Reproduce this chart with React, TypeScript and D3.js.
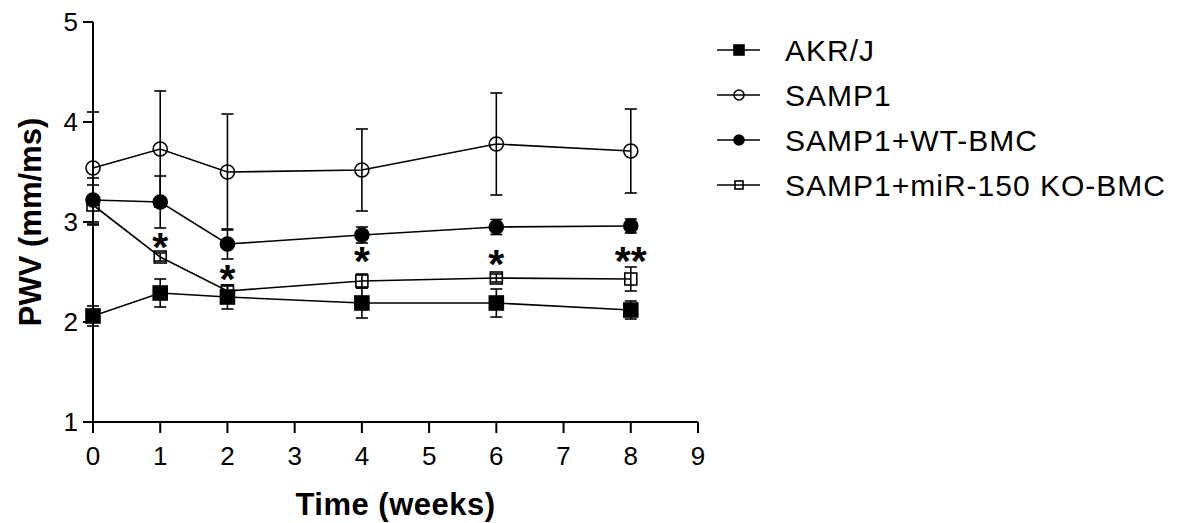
import React from 'react';
import * as d3 from 'd3';

const weeks = [0, 1, 2, 4, 6, 8];

const akrMean = [2.06, 2.29, 2.25, 2.19, 2.19, 2.12];
const akrErr = [0.1, 0.14, 0.12, 0.15, 0.14, 0.09];
const sampMean = [3.54, 3.73, 3.5, 3.52, 3.78, 3.71];
const sampErr = [0.56, 0.58, 0.58, 0.41, 0.51, 0.42];
const wtMean = [3.22, 3.2, 2.78, 2.87, 2.95, 2.96];
const wtErr = [0.22, 0.26, 0.15, 0.08, 0.075, 0.07];
const koMean = [3.17, 2.65, 2.31, 2.41, 2.44, 2.43];
const koErr = [0.2, 0.04, 0.05, 0.07, 0.04, 0.12];

const xTicks = [0, 1, 2, 3, 4, 5, 6, 7, 8, 9];
const yTicks = [1, 2, 3, 4, 5];

// significance marks (week, label, level on the y scale)
const starWeeks = [1, 2, 4, 6, 8];
const starLabels = ['*', '*', '*', '*', '**'];
const starLevels = [2.84, 2.52, 2.7, 2.67, 2.7];

type Series = { name: string; mean: number[]; err: number[]; shape: 'square' | 'circle'; filled: boolean };

const series: Series[] = [
  { name: 'AKR/J', mean: akrMean, err: akrErr, shape: 'square', filled: true },
  { name: 'SAMP1', mean: sampMean, err: sampErr, shape: 'circle', filled: false },
  { name: 'SAMP1+WT-BMC', mean: wtMean, err: wtErr, shape: 'circle', filled: true },
  { name: 'SAMP1+miR-150 KO-BMC', mean: koMean, err: koErr, shape: 'square', filled: false },
];

const W = 1194;
const H = 523;
const font = 'Liberation Sans, Arial, Helvetica, sans-serif';

const x = d3.scaleLinear().domain([0, 9]).range([93, 698]);
const y = d3.scaleLinear().domain([1, 5]).range([422, 22]);

function Marker({ s, cx, cy, size }: { s: Series; cx: number; cy: number; size: number }) {
  const fill = s.filled ? '#000' : 'none';
  if (s.shape === 'square') {
    const a = s.filled ? size : size - 2;
    return <rect x={cx - a / 2} y={cy - a / 2} width={a} height={a} fill={fill} stroke="#000" strokeWidth={1.6} />;
  }
  return <circle cx={cx} cy={cy} r={size / 2} fill={fill} stroke="#000" strokeWidth={1.6} />;
}

export default function App() {
  const line = d3.line<number>().x((_, i) => x(weeks[i])).y((d) => y(d));

  return (
    <svg width={W} height={H} style={{ position: 'absolute', left: 0, top: 0, background: '#fff' }} fontFamily={font}>
      {/* axes */}
      <line x1={x(0)} x2={x(0)} y1={y(1)} y2={y(5)} stroke="#000" strokeWidth={2} />
      <line x1={x(0) - 10} x2={x(9)} y1={y(1)} y2={y(1)} stroke="#000" strokeWidth={2} />
      {yTicks.map((t) => (
        <g key={'y' + t}>
          <line x1={x(0) - 10} x2={x(0)} y1={y(t)} y2={y(t)} stroke="#000" strokeWidth={2} />
          <text x={78} y={y(t) + 9} textAnchor="end" fontSize={26}>{t}</text>
        </g>
      ))}
      {xTicks.map((t) => (
        <g key={'x' + t}>
          <line x1={x(t)} x2={x(t)} y1={y(1)} y2={y(1) + 11} stroke="#000" strokeWidth={2} />
          <text x={x(t)} y={465} textAnchor="middle" fontSize={26}>{t}</text>
        </g>
      ))}
      <text x={(x(0) + x(9)) / 2} y={515} textAnchor="middle" fontSize={31} fontWeight="bold" letterSpacing={0.5}>Time (weeks)</text>
      <text transform={`translate(41,${y(3)}) rotate(-90)`} textAnchor="middle" fontSize={31} fontWeight="bold">PWV (mm/ms)</text>

      {/* lines */}
      {series.map((s) => (
        <path key={'l' + s.name} d={line(s.mean) || ''} fill="none" stroke="#000" strokeWidth={1.6} />
      ))}
      {/* error bars */}
      {series.map((s) =>
        s.mean.map((m, i) => {
          const cx = x(weeks[i]);
          const top = y(m + s.err[i]);
          const bot = y(m - s.err[i]);
          return (
            <g key={'e' + s.name + i} stroke="#000" strokeWidth={1.6}>
              <line x1={cx} x2={cx} y1={top} y2={bot} />
              <line x1={cx - 6} x2={cx + 6} y1={top} y2={top} />
              <line x1={cx - 6} x2={cx + 6} y1={bot} y2={bot} />
            </g>
          );
        })
      )}
      {/* markers */}
      {series.map((s) =>
        s.mean.map((m, i) => <Marker key={'m' + s.name + i} s={s} cx={x(weeks[i])} cy={y(m)} size={14} />)
      )}
      {/* significance */}
      {starWeeks.map((w, i) => (
        <text key={'s' + i} x={x(w)} y={y(starLevels[i]) + 23} textAnchor="middle" fontSize={41} fontWeight="bold">
          {starLabels[i]}
        </text>
      ))}

      {/* legend */}
      {series.map((s, i) => {
        const ly = 50 + i * 45;
        return (
          <g key={'lg' + s.name}>
            <line x1={717} x2={760} y1={ly} y2={ly} stroke="#000" strokeWidth={1.6} />
            <Marker s={s} cx={739} cy={ly} size={10} />
            <text x={785} y={ly + 10.5} fontSize={30} letterSpacing={1}>{s.name}</text>
          </g>
        );
      })}
    </svg>
  );
}
